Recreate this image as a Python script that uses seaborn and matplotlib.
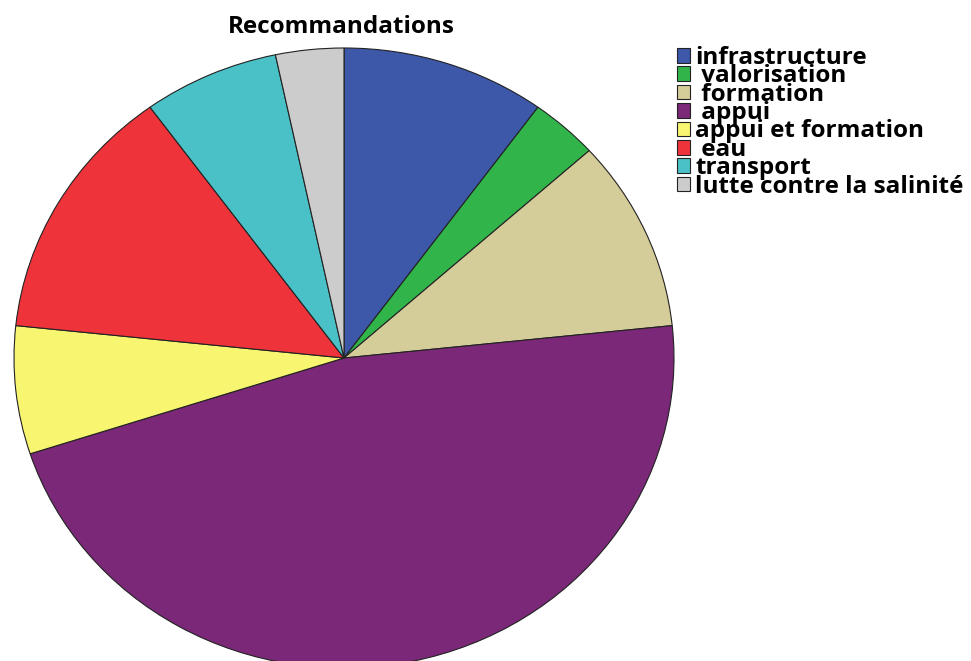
import numpy as np
import matplotlib
matplotlib.use('Agg')
import matplotlib.pyplot as plt
import seaborn as sns

# categories and counts
categories = ['infrastructure', ' valorisation', ' formation', ' appui',
              'appui et formation', ' eau', 'transport', 'lutte contre la salinité']
counts = [3, 1, 3, 14, 2, 4, 2, 1]
colors = ['#3d57a9', '#31b54b', '#d4cd9a', '#7b2878',
          '#f8f570', '#ef333b', '#4ac1c6', '#cccccc']

sns.set_theme(style='white')
plt.rcParams['font.family'] = ['Open Sans', 'DejaVu Sans']
plt.rcParams['text.color'] = 'black'

fig = plt.figure(figsize=(9.71, 6.61), dpi=100)
# pie axes: slightly wider than tall, runs off the bottom edge
ax = fig.add_axes([14 / 971, 1 - 668 / 661, 660 / 971, 620 / 661])

palette = sns.color_palette(colors)
wedges, _ = ax.pie(counts, colors=palette, startangle=90, counterclock=False,
                   wedgeprops=dict(edgecolor='#222222', linewidth=0.8))
ax.set_aspect('auto')
ax.set_xlim(-1, 1)
ax.set_ylim(-1, 1)
ax.axis('off')

fig.text(341 / 971, 1 - 27 / 661, 'Recommandations', ha='center', va='center',
         fontsize=17.5, fontweight='bold')

leg = fig.legend(wedges, categories, loc='upper left',
                 bbox_to_anchor=(677 / 971, 1 - 46 / 661), frameon=False,
                 prop=dict(weight='bold', size=17.5), handlelength=0.55,
                 handleheight=0.55, handletextpad=0.2, labelspacing=-0.232,
                 borderpad=0, borderaxespad=0)

fig.savefig('out.png', dpi=100)
